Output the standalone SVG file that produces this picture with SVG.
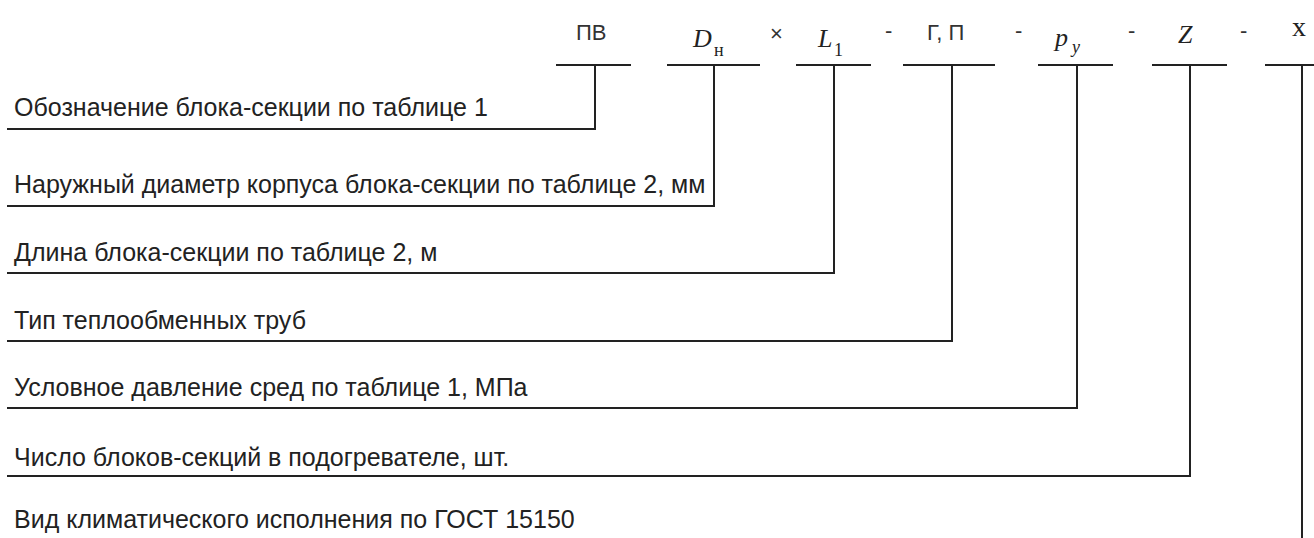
<svg xmlns="http://www.w3.org/2000/svg" width="1314" height="538" viewBox="0 0 1314 538">
<style>
.ln{fill:none;stroke:#222;stroke-width:2}
.lbl{font-family:"Liberation Sans",Arial,sans-serif;font-size:25px;fill:#222}
.sym{font-family:"Liberation Sans",Arial,sans-serif;font-size:22px;fill:#333}
.it{font-family:"Liberation Serif","Times New Roman",serif;font-style:italic;font-size:26px;fill:#222}
.sub{font-family:"Liberation Serif","Times New Roman",serif;font-size:18px;fill:#222}
</style>
<rect width="1314" height="538" fill="#fff"/>
<g id="codes">
<text class="sym" x="576" y="40">ПВ</text>
<text class="it" x="693" y="47">D</text><text class="sub" x="714" y="56">н</text>
<text class="sym" x="770" y="41" font-size="28">×</text>
<text class="it" x="818" y="47">L</text><text class="sub" x="834" y="56">1</text>
<text class="sym" x="885" y="38">-</text>
<text class="sym" x="927" y="40">Г, П</text>
<text class="sym" x="1015" y="38">-</text>
<text class="it" x="1055" y="46">p</text><text class="sub" x="1072" y="53" font-style="italic">y</text>
<text class="sym" x="1128" y="38">-</text>
<text class="it" x="1178" y="43">Z</text>
<text class="sym" x="1240" y="38">-</text>
<text x="1292" y="36" font-family="Liberation Serif,serif" font-size="28" fill="#222">x</text>
</g>
<g id="connectors">
<path class="ln" d="M556 65H631M595 65V129H7"/>
<path class="ln" d="M667 65H760M714 65V206H7"/>
<path class="ln" d="M796 65H871M834 65V273H7"/>
<path class="ln" d="M903 65H995M952 65V341H7"/>
<path class="ln" d="M1038 65H1113M1077 65V408H7"/>
<path class="ln" d="M1152 65H1227M1190 65V476H7"/>
<path class="ln" d="M1265 65H1314M1302 65V538"/>
</g>
<g id="n1"><text class="lbl" x="14" y="116">Обозначение блока-секции по таблице 1</text></g>
<g id="n2"><text class="lbl" x="14" y="193">Наружный диаметр корпуса блока-секции по таблице 2, мм</text></g>
<g id="n3"><text class="lbl" x="14" y="261">Длина блока-секции по таблице 2, м</text></g>
<g id="n4"><text class="lbl" x="14" y="329">Тип теплообменных труб</text></g>
<g id="n5"><text class="lbl" x="14" y="396">Условное давление сред по таблице 1, МПа</text></g>
<g id="n6"><text class="lbl" x="14" y="466">Число блоков-секций в подогревателе, шт.</text></g>
<g id="n7"><text class="lbl" x="14" y="528">Вид климатического исполнения по ГОСТ 15150</text></g>
</svg>
